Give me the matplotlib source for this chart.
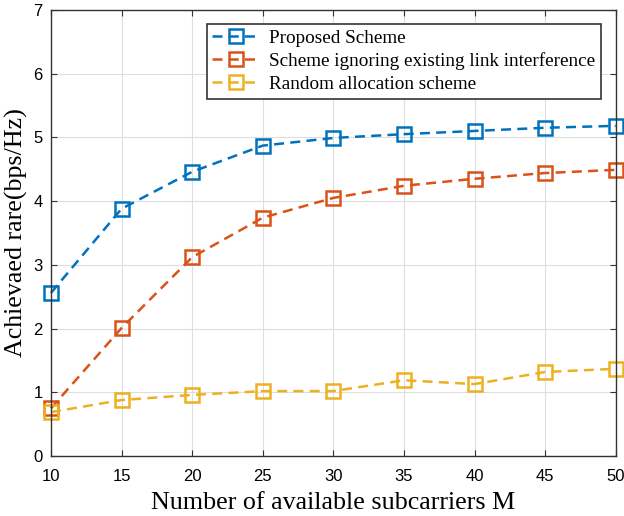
import matplotlib
matplotlib.use("Agg")
import matplotlib.pyplot as plt

M = [10, 15, 20, 25, 30, 35, 40, 45, 50]
proposed = [2.56, 3.88, 4.46, 4.87, 4.99, 5.05, 5.10, 5.15, 5.18]
ignoring = [0.75, 2.01, 3.12, 3.74, 4.05, 4.24, 4.35, 4.44, 4.49]
random_alloc = [0.69, 0.88, 0.96, 1.02, 1.02, 1.19, 1.13, 1.32, 1.37]
labels = ["Proposed Scheme", "Scheme ignoring existing link interference", "Random allocation scheme"]
colors = ["#0072BD", "#D95319", "#EDB120"]

plt.rcParams['font.family'] = ['Liberation Serif', 'DejaVu Serif']
fig = plt.figure(figsize=(6.24, 5.16), dpi=100)
ax = fig.add_axes([0.0817, 0.116, 0.905, 0.865])

for y, lab, c in zip([proposed, ignoring, random_alloc], labels, colors):
    ax.plot(M, y, linestyle=(0, (4, 2.5)), color=c, lw=1.8, marker='s', markersize=10,
            markerfacecolor='none', markeredgewidth=1.8, label=lab, clip_on=False)

ax.set_xlim(10, 50)
ax.set_ylim(0, 7)
ax.set_xticks(range(10, 51, 5))
ax.set_yticks(range(0, 8))
ax.grid(True, color='#dedede', lw=0.8)
ax.set_axisbelow(True)
ax.tick_params(direction='in', top=True, right=True, labelsize=12, color='#333333', length=4)
ax.tick_params(axis='x', pad=9)
ax.tick_params(axis='y', pad=6)
for t in ax.get_xticklabels() + ax.get_yticklabels():
    t.set_fontfamily(['Liberation Sans', 'DejaVu Sans'])
for s in ax.spines.values():
    s.set_color('#333333')
    s.set_linewidth(1.0)
ax.set_xlabel("Number of available subcarriers M", fontsize=18.7, labelpad=6)
ax.set_ylabel("Achievaed rare(bps/Hz)", fontsize=18.7, labelpad=4)
leg = ax.legend(loc='upper right', bbox_to_anchor=(0.9735, 0.969), fontsize=13.8, frameon=True, fancybox=False,
                edgecolor='#333333', framealpha=1, borderpad=0.3, labelspacing=0.28, handlelength=2.5,
                handletextpad=0.45, borderaxespad=0)
leg.get_frame().set_linewidth(1.2)
fig.savefig("out.png", dpi=100)
